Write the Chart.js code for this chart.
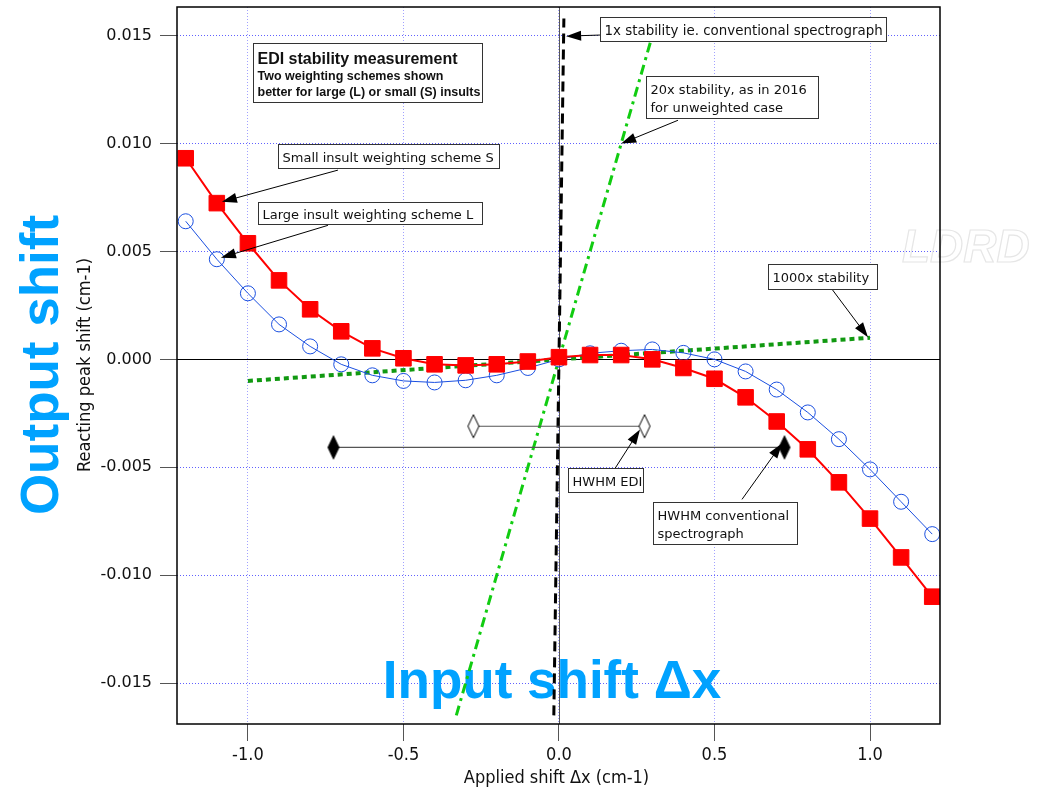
<!DOCTYPE html>
<html>
<head>
<meta charset="utf-8">
<script src="https://cdn.jsdelivr.net/npm/chart.js@4.4.1/dist/chart.umd.min.js"></script>
<style>
  html, body { margin:0; padding:0; background:#fff; }
  #wrap { width:1038px; height:793px; }
</style>
</head>
<body>
<div id="wrap"><canvas id="c" width="1038" height="793"></canvas></div>
<script>
// applied shift (cm-1)
const xValues = [-1.2,-1.1,-1.0,-0.9,-0.8,-0.7,-0.6,-0.5,-0.4,-0.3,-0.2,-0.1,0.0,0.1,0.2,0.3,0.4,0.5,0.6,0.7,0.8,0.9,1.0,1.1,1.2];
// small insult weighting scheme S (red squares)
const schemeS = [0.00932,0.00724,0.00538,0.00366,0.00232,0.0013,0.00051,0.00005,-0.00023,-0.00028,-0.00023,-0.0001,0.0001,0.0002,0.0002,0.0,-0.0004,-0.0009,-0.00176,-0.00288,-0.00417,-0.0057,-0.00738,-0.00918,-0.011];
// large insult weighting scheme L (blue circles)
const schemeL = [0.0064,0.00464,0.00306,0.00162,0.0006,-0.00023,-0.00074,-0.001,-0.00107,-0.00097,-0.00074,-0.0004,0.0,0.00028,0.0004,0.00046,0.0003,0.0,-0.00056,-0.0014,-0.00246,-0.0037,-0.0051,-0.0066,-0.0081];

// reference lines
const line1xX = [-0.0165, 0.0158];
const line1xY = [-0.0165, 0.0158];
const line20xX = [-0.33, 0.295];
const line20xY = [-0.0165, 0.01475];
const line1000xX = [-1.0, 1.0];
const line1000xY = [-0.001, 0.001];

// half widths
const hwhmEdiX = [-0.275, 0.275];
const hwhmEdiY = [-0.0031, -0.0031];
const hwhmConvX = [-0.725, 0.725];
const hwhmConvY = [-0.00408, -0.00408];

const xTickValues = [-1.0, -0.5, 0.0, 0.5, 1.0];
const xTickLabels = ["-1.0", "-0.5", "0.0", "0.5", "1.0"];
const yTickValues = [-0.015, -0.010, -0.005, 0.000, 0.005, 0.010, 0.015];
const yTickLabels = ["-0.015", "-0.010", "-0.005", "0.000", "0.005", "0.010", "0.015"];

const pts = (xs, ys) => xs.map((x, i) => ({x, y: ys[i]}));

function diamond(fill){
  const c = document.createElement("canvas");
  c.width = 14; c.height = 26;
  const g = c.getContext("2d");
  g.beginPath();
  g.moveTo(7, 1.5); g.lineTo(12.5, 13); g.lineTo(7, 24.5); g.lineTo(1.5, 13); g.closePath();
  g.fillStyle = fill; g.fill();
  g.lineWidth = 1; g.strokeStyle = "#000"; g.stroke();
  return c;
}

const NARROW = '"Liberation Sans Narrow", "DejaVu Sans Condensed", sans-serif';
const BLUE_TXT = "#00a2ff";
const NOTE_FONT = '13px "DejaVu Sans", sans-serif';

// annotation boxes: anchor = top-left corner in data units, arrow from tail to tip in data units
const notes = [
  { x:-0.984, y:0.01466, w:229, h:59, lines:[
      {t:"EDI stability measurement", f:'bold 16px "Liberation Sans", Arial, sans-serif', dy:20},
      {t:"Two weighting schemes shown", f:'bold 12.5px "Liberation Sans", Arial, sans-serif', dy:36},
      {t:"better for large (L) or small (S) insults", f:'bold 12.5px "Liberation Sans", Arial, sans-serif', dy:52}] },
  { x:0.1318, y:0.01585, w:286, h:24, lines:[{t:"1x stability ie. conventional spectrograph", f:'13.4px "DejaVu Sans", sans-serif', dy:17}],
    arrow:[0.1318, 0.01503, 0.023, 0.01498] },
  { x:0.2797, y:0.01313, w:172, h:42, lines:[{t:"20x stability, as in 2016", dy:17},{t:"for unweighted case", dy:35}],
    arrow:[0.3826, 0.01108, 0.2, 0.0100] },
  { x:-0.9045, y:0.00996, w:221, h:24, lines:[{t:"Small insult weighting scheme S", dy:17}],
    arrow:[-0.7106, 0.00877, -1.0836, 0.00730] },
  { x:-0.9678, y:0.00730, w:224, h:22, lines:[{t:"Large insult weighting scheme L", dy:16}],
    arrow:[-0.7428, 0.00621, -1.0868, 0.00471] },
  { x:0.672, y:0.00441, w:109, h:25, lines:[{t:"1000x stability", dy:17}],
    arrow:[0.8778, 0.00325, 0.9936, 0.00102] },
  { x:0.0289, y:-0.00504, w:75, h:24, lines:[{t:"HWHM EDI", dy:17}],
    arrow:[0.18, -0.00506, 0.2605, -0.00325] },
  { x:0.3013, y:-0.00662, w:144, h:42, lines:[{t:"HWHM conventional", dy:17},{t:"spectrograph", dy:35}],
    arrow:[0.5884, -0.00649, 0.717, -0.00390] }
];

function arrow(ctx, x1, y1, x2, y2){
  const a = Math.atan2(y2 - y1, x2 - x1);
  const L = 15, W = 5;
  ctx.beginPath();
  ctx.moveTo(x1, y1);
  ctx.lineTo(x2 - Math.cos(a) * L * 0.8, y2 - Math.sin(a) * L * 0.8);
  ctx.lineWidth = 1; ctx.strokeStyle = "#000"; ctx.stroke();
  ctx.beginPath();
  ctx.moveTo(x2, y2);
  ctx.lineTo(x2 - Math.cos(a) * L + Math.sin(a) * W, y2 - Math.sin(a) * L - Math.cos(a) * W);
  ctx.lineTo(x2 - Math.cos(a) * L - Math.sin(a) * W, y2 - Math.sin(a) * L + Math.cos(a) * W);
  ctx.closePath();
  ctx.fillStyle = "#000"; ctx.fill();
}

const decor = {
  id: "decor",
  beforeDatasetsDraw(chart){
    const {ctx, chartArea: a, scales: {x, y}} = chart;
    ctx.save();
    // zero lines
    ctx.lineWidth = 1;
    ctx.strokeStyle = "#000";
    ctx.beginPath();
    ctx.moveTo(a.left, Math.round(y.getPixelForValue(0)) + 0.5);
    ctx.lineTo(a.right, Math.round(y.getPixelForValue(0)) + 0.5);
    ctx.stroke();
    ctx.strokeStyle = "#555";
    ctx.beginPath();
    ctx.moveTo(Math.round(x.getPixelForValue(0)) + 0.5, a.top);
    ctx.lineTo(Math.round(x.getPixelForValue(0)) + 0.5, a.bottom);
    ctx.stroke();

    // watermark
    ctx.font = 'italic bold 46px "Liberation Sans", Arial, sans-serif';
    ctx.lineWidth = 1.2;
    ctx.strokeStyle = "#e6e6e6";
    ctx.textAlign = "left"; ctx.textBaseline = "alphabetic";
    ctx.strokeText("LDRD", 902, 262);

    // big blue overlay labels
    ctx.fillStyle = BLUE_TXT;
    ctx.font = 'bold 53px "Liberation Sans", Arial, sans-serif';
    ctx.textAlign = "center";
    ctx.fillText("Input shift \u0394x", 552, 698);
    ctx.save();
    ctx.translate(58, 365);
    ctx.rotate(-Math.PI / 2);
    ctx.fillText("Output shift", 0, 0);
    ctx.restore();
    ctx.restore();
  },
  afterDatasetsDraw(chart){
    const {ctx, chartArea: a, scales: {x, y}} = chart;
    ctx.save();
    // frame
    ctx.lineWidth = 1.5;
    ctx.strokeStyle = "#000";
    ctx.strokeRect(a.left, a.top, a.right - a.left, a.bottom - a.top);

    // annotations
    for(const n of notes){
      const bx = Math.round(x.getPixelForValue(n.x)) + 0.5;
      const by = Math.round(y.getPixelForValue(n.y)) + 0.5;
      if(n.arrow){
        const [ax, ay, tx, ty] = n.arrow;
        arrow(ctx, x.getPixelForValue(ax), y.getPixelForValue(ay), x.getPixelForValue(tx), y.getPixelForValue(ty));
      }
      ctx.fillStyle = "#fff";
      ctx.fillRect(bx, by, n.w, n.h);
      ctx.lineWidth = 1; ctx.strokeStyle = "#333";
      ctx.strokeRect(bx, by, n.w, n.h);
      ctx.fillStyle = "#111";
      ctx.textAlign = "left"; ctx.textBaseline = "alphabetic";
      for(const ln of n.lines){
        ctx.font = ln.f || NOTE_FONT;
        ctx.fillText(ln.t, bx + 4, by + ln.dy);
      }
    }

    // axis titles
    ctx.fillStyle = "#111";
    ctx.font = "18px " + NARROW;
    ctx.textAlign = "center"; ctx.textBaseline = "middle";
    ctx.fillText("Applied shift \u0394x (cm-1)", (a.left + a.right) / 2 - 2, 778);
    ctx.save();
    ctx.translate(85, 365);
    ctx.rotate(-Math.PI / 2);
    ctx.fillText("Reacting peak shift (cm-1)", 0, 0);
    ctx.restore();
    ctx.restore();
  }
};

new Chart(document.getElementById("c"), {
  type: "scatter",
  data: {
    datasets: [
      { label: "Small insult weighting scheme S", data: pts(xValues, schemeS), showLine: true,
        borderColor: "#ff0000", backgroundColor: "#ff0000", borderWidth: 2,
        pointStyle: "rect", pointRadius: 11, pointBorderWidth: 1, pointHoverRadius: 11 },
      { label: "Large insult weighting scheme L", data: pts(xValues, schemeL), showLine: true,
        borderColor: "#1a4fe0", backgroundColor: "rgba(0,0,0,0)", borderWidth: 1,
        pointStyle: "circle", pointRadius: 7.5, pointBorderWidth: 1, pointHoverRadius: 7.5 },
      { label: "HWHM EDI", data: pts(hwhmEdiX, hwhmEdiY), showLine: true,
        borderColor: "#555", borderWidth: 1.2, pointStyle: diamond("#fff") },
      { label: "HWHM conventional", data: pts(hwhmConvX, hwhmConvY), showLine: true,
        borderColor: "#555", borderWidth: 1.2, pointStyle: diamond("#000") },
      { label: "1x", data: pts(line1xX, line1xY), showLine: true,
        borderColor: "#000", borderWidth: 3, borderDash: [10, 6], pointRadius: 0 },
      { label: "20x", data: pts(line20xX, line20xY), showLine: true,
        borderColor: "#11cc11", borderWidth: 3, borderDash: [10, 5, 3, 5], pointRadius: 0 },
      { label: "1000x", data: pts(line1000xX, line1000xY), showLine: true,
        borderColor: "#119911", borderWidth: 4, borderDash: [5, 4], pointRadius: 0 }
    ]
  },
  options: {
    responsive: false,
    animation: false,
    layout: { autoPadding: false, padding: { left: 0, right: 98, top: 7, bottom: 0 } },
    plugins: { legend: { display: false }, tooltip: { enabled: false } },
    scales: {
      x: {
        type: "linear", min: -1.228, max: 1.225,
        afterBuildTicks: s => { s.ticks = xTickValues.map(v => ({value: v})); },
        afterFit: s => { s.height = 69; s.paddingLeft = 0; s.paddingRight = 0; },
        ticks: { padding: 4, color: "#111", font: { family: NARROW, size: 18 },
          callback: v => xTickLabels[xTickValues.indexOf(v)] },
        grid: { color: "rgba(130,130,255,0.75)", tickColor: "#555", tickLength: 17, tickBorderDash: [] },
        border: { display: false, dash: [1, 2] }
      },
      y: {
        type: "linear", min: -0.0169, max: 0.01633,
        afterBuildTicks: s => { s.ticks = yTickValues.map(v => ({value: v})); },
        afterFit: s => { s.width = 177; s.paddingTop = 0; s.paddingBottom = 0; },
        ticks: { padding: 8, color: "#111", font: { family: '"DejaVu Sans", sans-serif', size: 16 },
          callback: v => yTickLabels[yTickValues.findIndex(t => Math.abs(t - v) < 1e-9)] },
        grid: { color: "rgba(80,80,255,0.9)", tickColor: "#555", tickLength: 17, tickBorderDash: [] },
        border: { display: false, dash: [1, 2] }
      }
    }
  },
  plugins: [decor]
});
</script>
</body>
</html>
